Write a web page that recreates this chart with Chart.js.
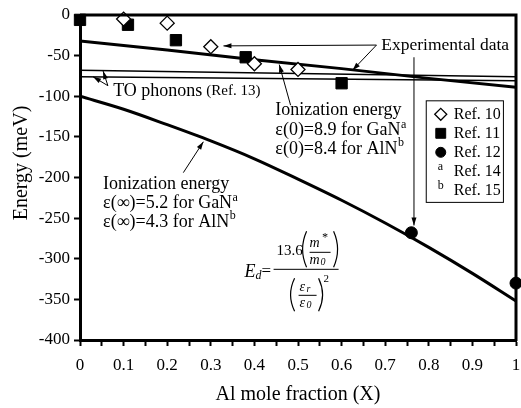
<!DOCTYPE html>
<html>
<head>
<meta charset="utf-8">
<script src="https://cdn.jsdelivr.net/npm/chart.js@4.4.0/dist/chart.umd.min.js"></script>
<style>
    body { margin: 0; background: #fff; }
</style>
</head>
<body>
<canvas id="energyChart" width="521" height="408"></canvas>
<script>
// tick labels
var xTickLabels = ['0', '0.1', '0.2', '0.3', '0.4', '0.5', '0.6', '0.7', '0.8', '0.9', '1'];
var yTickLabels = ['-400', '-350', '-300', '-250', '-200', '-150', '-100', '-50', '0'];

// experimental points (Al mole fraction, meV)
var ref10X = [0.1, 0.2, 0.3, 0.4, 0.5];
var ref10Y = [-5, -10, -39, -60, -67];
var ref11X = [0, 0.11, 0.22, 0.38, 0.6];
var ref11Y = [-6, -12, -31, -52, -84];
var ref12X = [0.76, 1];
var ref12Y = [-268, -330];

// calculated curves
var ionStaticX = [0, 0.2, 0.4, 0.6, 0.8, 1];
var ionStaticY = [-32, -43, -55, -66, -78, -89];
var ionOpticX = [0, 0.1, 0.2, 0.3, 0.4, 0.5, 0.6, 0.7, 0.8, 0.9, 1];
var ionOpticY = [-100, -116, -135, -155, -177, -202, -228, -256, -286, -318, -352];
var phononX = [0, 1];
var phononAY = [-68, -76];
var phononBY = [-76, -81];

var serif = '"Liberation Serif", "Times New Roman", serif';

function pts(xs, ys) {
    return xs.map(function (x, i) { return { x: x, y: ys[i] }; });
}

var annotations = {
    id: 'annotations',
    afterDraw: function (chart) {
        var ctx = chart.ctx;
        var area = chart.chartArea;
        var sx = chart.scales.x, sy = chart.scales.y;
        function X(v) { return sx.getPixelForValue(v); }
        function Y(v) { return sy.getPixelForValue(v); }

        ctx.save();
        ctx.strokeStyle = '#000';
        ctx.fillStyle = '#000';

        // frame top / right
        ctx.lineWidth = 3;
        ctx.beginPath();
        ctx.moveTo(area.left, area.top);
        ctx.lineTo(area.right, area.top);
        ctx.lineTo(area.right, area.bottom + 1);
        ctx.stroke();

        function text(str, x, y, size, style) {
            ctx.font = (style || '') + ' ' + size + 'px ' + serif;
            ctx.textAlign = 'left';
            ctx.textBaseline = 'middle';
            ctx.fillText(str, x, y);
            return x + ctx.measureText(str).width;
        }
        function supText(str, sup, x, y, size) {
            var end = text(str, x, y, size);
            text(sup, end + 0.5, y - 6, 12);
        }
        function arrow(x1, y1, x2, y2) {
            ctx.lineWidth = 1;
            ctx.beginPath();
            ctx.moveTo(x1, y1);
            ctx.lineTo(x2, y2);
            ctx.stroke();
            var a = Math.atan2(y2 - y1, x2 - x1);
            ctx.beginPath();
            ctx.moveTo(x2, y2);
            ctx.lineTo(x2 - 8 * Math.cos(a) + 2.5 * Math.sin(a), y2 - 8 * Math.sin(a) - 2.5 * Math.cos(a));
            ctx.lineTo(x2 - 8 * Math.cos(a) - 2.5 * Math.sin(a), y2 - 8 * Math.sin(a) + 2.5 * Math.cos(a));
            ctx.closePath();
            ctx.fill();
        }
        function paren(x, y1, y2, dir) {
            ctx.lineWidth = 1.2;
            ctx.beginPath();
            ctx.moveTo(x, y1);
            ctx.quadraticCurveTo(x - dir * 8, (y1 + y2) / 2, x, y2);
            ctx.stroke();
        }

        // Experimental data
        text('Experimental data', X(0.691), Y(-38), 17.5);
        arrow(X(0.68), Y(-37), X(0.329), Y(-38));
        arrow(X(0.68), Y(-37), X(0.625), Y(-68));
        arrow(X(0.766), Y(-52), X(0.766), Y(-259));

        // TO phonons
        var e = text('TO phonons', X(0.076), Y(-94), 18);
        text('(Ref. 13)', e + 4, Y(-94), 15);
        arrow(X(0.064), Y(-87), X(0.03), Y(-76));
        arrow(X(0.064), Y(-87), X(0.053), Y(-69));

        // static dielectric constant block
        text('Ionization energy', X(0.448), Y(-117), 18);
        supText('\u03b5(0)=8.9 for GaN', 'a', X(0.448), Y(-142), 18);
        supText('\u03b5(0)=8.4 for AlN', 'b', X(0.448), Y(-165), 18);
        arrow(X(0.483), Y(-111), X(0.457), Y(-61));

        // optical dielectric constant block
        text('Ionization energy', X(0.053), Y(-208), 18);
        supText('\u03b5(\u221e)=5.2 for GaN', 'a', X(0.053), Y(-232), 18);
        supText('\u03b5(\u221e)=4.3 for AlN', 'b', X(0.053), Y(-255), 18);
        arrow(X(0.237), Y(-194), X(0.283), Y(-156));

        // formula
        var bx = X(0.444), by = Y(-313);
        text('E', bx - 29, by + 3, 18, 'italic');
        text('d', bx - 18, by + 7, 12, 'italic');
        text('=', bx - 12, by + 2, 17);
        ctx.lineWidth = 1;
        ctx.beginPath(); ctx.moveTo(bx, by); ctx.lineTo(bx + 65, by); ctx.stroke();
        text('13.6', bx + 3, by - 18, 15);
        paren(bx + 33, by - 38, by - 2, 1);
        text('m', bx + 36, by - 26, 14, 'italic');
        text('*', bx + 48, by - 31, 12, 'italic');
        ctx.lineWidth = 1;
        ctx.beginPath(); ctx.moveTo(bx + 36, by - 17); ctx.lineTo(bx + 57, by - 17); ctx.stroke();
        text('m', bx + 36, by - 9, 14, 'italic');
        text('0', bx + 47, by - 7, 10, 'italic');
        paren(bx + 60, by - 38, by - 2, -1);
        paren(bx + 21, by + 9, by + 42, 1);
        text('\u03b5', bx + 26, by + 18, 14, 'italic');
        text('r', bx + 33, by + 20, 10, 'italic');
        ctx.lineWidth = 1;
        ctx.beginPath(); ctx.moveTo(bx + 25, by + 26); ctx.lineTo(bx + 43, by + 26); ctx.stroke();
        text('\u03b5', bx + 26, by + 34, 14, 'italic');
        text('0', bx + 33, by + 36, 10, 'italic');
        paren(bx + 45, by + 9, by + 42, -1);
        text('2', bx + 50, by + 10, 11);

        // legend box
        var lx = X(0.793), ly = Y(-105), lw = X(0.97) - lx, lh = Y(-230) - ly;
        ctx.lineWidth = 1;
        ctx.strokeRect(lx + 0.5, ly + 0.5, lw, lh);
        var rowY = ly + 14;
        chart.data.datasets.forEach(function (ds) {
            if (!ds.legendRow) return;
            ctx.fillStyle = ds.backgroundColor;
            ctx.strokeStyle = '#000';
            ctx.lineWidth = ds.borderWidth;
            Chart.helpers.drawPoint(ctx, {
                pointStyle: ds.pointStyle, radius: ds.pointRadius - 1,
                borderWidth: ds.borderWidth, rotation: 0
            }, lx + 15, rowY);
            ctx.fillStyle = '#000';
            text(ds.label, lx + 28, rowY, 16);
            rowY += 19;
        });
        ['a', 'b'].forEach(function (mark, i) {
            text(mark, lx + 12, rowY - 4, 12);
            text(i === 0 ? 'Ref. 14' : 'Ref. 15', lx + 28, rowY, 16);
            rowY += 19;
        });

        // y title
        ctx.save();
        ctx.translate(22, 163);
        ctx.rotate(-Math.PI / 2);
        ctx.font = '20px ' + serif;
        ctx.textAlign = 'center';
        ctx.textBaseline = 'middle';
        ctx.fillText('Energy (meV)', 0, 0);
        ctx.restore();

        ctx.restore();
    }
};

new Chart(document.getElementById('energyChart'), {
    type: 'scatter',
    data: {
        datasets: [{
                label: 'Ref. 10',
                legendRow: true,
                data: pts(ref10X, ref10Y),
                pointStyle: 'rectRot',
                pointRadius: 7,
                backgroundColor: '#fff',
                borderColor: '#000',
                borderWidth: 1.3,
                clip: false
            },
            {
                label: 'Ref. 11',
                legendRow: true,
                data: pts(ref11X, ref11Y),
                pointStyle: 'rect',
                pointRadius: 8,
                backgroundColor: '#000',
                borderColor: '#000',
                borderWidth: 1,
                clip: false
            },
            {
                label: 'Ref. 12',
                legendRow: true,
                data: pts(ref12X, ref12Y),
                pointStyle: 'circle',
                pointRadius: 6,
                backgroundColor: '#000',
                borderColor: '#000',
                borderWidth: 1,
                clip: false
            },
            {
                label: 'Ionization energy, static',
                data: pts(ionStaticX, ionStaticY),
                showLine: true,
                pointRadius: 0,
                borderColor: '#000',
                borderWidth: 3
            },
            {
                label: 'Ionization energy, optical',
                data: pts(ionOpticX, ionOpticY),
                showLine: true,
                pointRadius: 0,
                borderColor: '#000',
                borderWidth: 3,
                cubicInterpolationMode: 'monotone'
            },
            {
                label: 'TO phonon A',
                data: pts(phononX, phononAY),
                showLine: true,
                pointRadius: 0,
                borderColor: '#000',
                borderWidth: 1.5
            },
            {
                label: 'TO phonon B',
                data: pts(phononX, phononBY),
                showLine: true,
                pointRadius: 0,
                borderColor: '#000',
                borderWidth: 1.5
            }
        ]
    },
    options: {
        responsive: false,
        animation: false,
        layout: {
            autoPadding: false,
            padding: { top: 15, right: 5, left: 0, bottom: 0 }
        },
        plugins: {
            legend: { display: false },
            tooltip: { enabled: false }
        },
        scales: {
            x: {
                type: 'linear',
                min: 0,
                max: 1,
                afterFit: function (scale) {
                    scale.height = 68;
                    scale.paddingLeft = 0;
                    scale.paddingRight = 5;
                },
                ticks: {
                    stepSize: 0.05,
                    autoSkip: false,
                    maxRotation: 0,
                    padding: 9,
                    color: '#000',
                    font: { family: serif, size: 17 },
                    callback: function (value, index) {
                        return index % 2 === 0 ? xTickLabels[index / 2] : '';
                    }
                },
                grid: {
                    drawOnChartArea: false,
                    drawTicks: true,
                    tickLength: 6,
                    tickColor: '#000',
                    tickWidth: 2
                },
                border: { display: true, color: '#000', width: 3 },
                title: {
                    display: true,
                    text: 'Al mole fraction (X)',
                    color: '#000',
                    font: { family: serif, size: 20 },
                    padding: { top: 0, bottom: 1 }
                }
            },
            y: {
                min: -400,
                max: 0,
                afterFit: function (scale) { scale.width = 80; },
                ticks: {
                    stepSize: 50,
                    padding: 4,
                    color: '#000',
                    font: { family: serif, size: 17 },
                    callback: function (value, index) {
                        return yTickLabels[index];
                    }
                },
                grid: {
                    drawOnChartArea: false,
                    drawTicks: true,
                    tickLength: 6,
                    tickColor: '#000',
                    tickWidth: 2
                },
                border: { display: true, color: '#000', width: 3 }
            }
        }
    },
    plugins: [annotations]
});
</script>
</body>
</html>
